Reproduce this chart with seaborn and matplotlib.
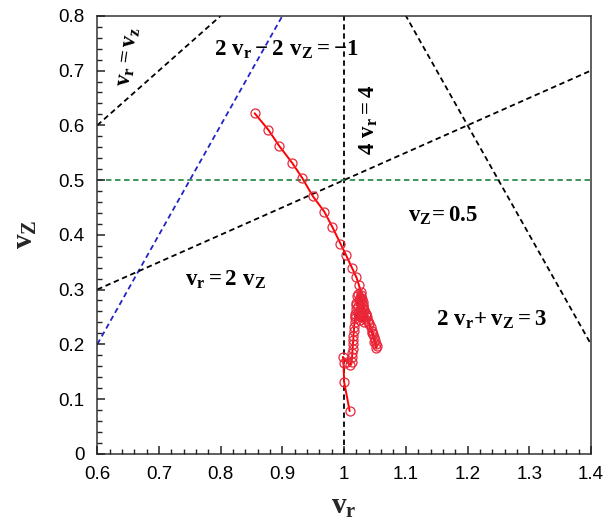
import numpy as np
import pandas as pd
import seaborn as sns
import matplotlib
matplotlib.use("Agg")
import matplotlib.pyplot as plt
from matplotlib.ticker import MultipleLocator

# ---- data -------------------------------------------------------------
# trajectory of (v_r, v_z)
traj_vr = [0.855, 0.877, 0.895, 0.916, 0.932, 0.949, 0.968, 0.981, 0.994,
           1.003, 1.013, 1.020, 1.024, 1.027,
           1.028, 1.030, 1.031, 1.033, 1.035, 1.037, 1.039, 1.041, 1.043,
           1.045, 1.047, 1.049, 1.050, 1.052, 1.053, 1.052,
           1.049, 1.045, 1.040, 1.035, 1.030, 1.026,
           1.022, 1.028, 1.024, 1.020, 1.027, 1.032, 1.022, 1.017, 1.028,
           1.034, 1.025, 1.019, 1.030, 1.024, 1.021, 1.029, 1.023, 1.026,
           1.031, 1.020, 1.025, 1.036, 1.033, 1.018,
           1.018, 1.017, 1.016, 1.016, 1.015, 1.015, 1.014, 1.014, 1.013,
           1.013, 1.012, 1.010, 1.004, 0.998, 0.999, 1.000, 1.009]
traj_vz = [0.622, 0.592, 0.562, 0.531, 0.504, 0.471, 0.442, 0.414, 0.384,
           0.363, 0.339, 0.322, 0.308, 0.296,
           0.285, 0.278, 0.270, 0.262, 0.255, 0.249, 0.243, 0.237, 0.231,
           0.225, 0.219, 0.213, 0.207, 0.201, 0.196, 0.193,
           0.205, 0.220, 0.238, 0.256, 0.272, 0.284,
           0.292, 0.290, 0.280, 0.272, 0.268, 0.262, 0.258, 0.252, 0.250,
           0.246, 0.285, 0.276, 0.266, 0.254, 0.288, 0.282, 0.270, 0.262,
           0.256, 0.264, 0.244, 0.252, 0.240, 0.256,
           0.248, 0.240, 0.232, 0.224, 0.216, 0.208, 0.200, 0.192, 0.184,
           0.176, 0.168, 0.163, 0.168, 0.177, 0.165, 0.131, 0.078]

# constraint lines a*v_r + b*v_z = c
con_a = [1, 2, 4, 0, 1, 2]
con_b = [-1, -1, 0, 1, -2, 1]
con_c = [0, 1, 4, 0.5, 0, 3]
con_color = ["black", "#2323c8", "black", "#2e8b4e", "black", "black"]

con_labels = [r"$\mathrm{v_r = v_z}$",
              r"$\mathrm{2\ v_r - 2\ v_Z = -1}$",
              r"$\mathrm{4\ v_r = 4}$",
              r"$\mathrm{v_Z\!= 0.5}$",
              r"$\mathrm{v_r = 2\ v_Z}$",
              r"$\mathrm{2\ v_r\!+ v_Z = 3}$"]
label_x = [0.649, 0.906, 1.040, 1.160, 0.808, 1.238]
label_y = [0.726, 0.738, 0.610, 0.436, 0.318, 0.245]
label_rot = [82, 0, 90, 0, 0, 0]

x_ticks = [0.6, 0.7, 0.8, 0.9, 1.0, 1.1, 1.2, 1.3, 1.4]
x_ticklabels = ["0.6", "0.7", "0.8", "0.9", "1", "1.1", "1.2", "1.3", "1.4"]
y_ticks = [0, 0.1, 0.2, 0.3, 0.4, 0.5, 0.6, 0.7, 0.8]
y_ticklabels = ["0", "0.1", "0.2", "0.3", "0.4", "0.5", "0.6", "0.7", "0.8"]

# ---- style ------------------------------------------------------------
sns.set_theme(style="ticks")
plt.rcParams["font.family"] = ["Liberation Sans", "DejaVu Sans"]
plt.rcParams["mathtext.fontset"] = "custom"
plt.rcParams["mathtext.rm"] = "Liberation Serif:bold"
plt.rcParams["mathtext.it"] = "Liberation Serif:bold"
plt.rcParams["mathtext.bf"] = "Liberation Serif:bold"

fig, ax = plt.subplots(figsize=(6.08, 5.27), dpi=100)
fig.subplots_adjust(left=0.160, right=0.972, bottom=0.139, top=0.970)

xmin, xmax, ymin, ymax = 0.6, 1.4, 0.0, 0.8
dash = (0, (3, 2))

for a, b, c, col in zip(con_a, con_b, con_c, con_color):
    if b == 0:
        xv = c / a
        df = pd.DataFrame({"vr": [xv, xv], "vz": [ymin, ymax]})
    else:
        xs = np.array([xmin, xmax])
        df = pd.DataFrame({"vr": xs, "vz": (c - a * xs) / b})
    sns.lineplot(data=df, x="vr", y="vz", ax=ax, color=col, lw=1.3,
                 linestyle=dash, sort=False, estimator=None, legend=False)

traj = pd.DataFrame({"vr": traj_vr, "vz": traj_vz})
sns.lineplot(data=traj, x="vr", y="vz", ax=ax, sort=False, estimator=None,
             color="red", lw=1.4, marker="o", markersize=6.5,
             markerfacecolor="none", markeredgecolor="#e8283a",
             markeredgewidth=0.9, legend=False)

for t, lx, ly, r in zip(con_labels, label_x, label_y, label_rot):
    ax.text(lx, ly, t, fontsize=16.5, rotation=r, ha="center", va="center",
            color="black")

ax.set_xlim(xmin, xmax)
ax.set_ylim(ymin, ymax)
ax.set_xticks(x_ticks, x_ticklabels)
ax.set_yticks(y_ticks, y_ticklabels)
ax.xaxis.set_minor_locator(MultipleLocator(0.02))
ax.yaxis.set_minor_locator(MultipleLocator(0.02))
ax.tick_params(which="both", length=0)
ax.tick_params(which="major", labelsize=13.5, pad=9, labelcolor="black")

# inward tick marks drawn as short segments along the bottom and left spines
ax_w_px = fig.get_figwidth() * fig.dpi * (0.972 - 0.160)
ax_h_px = fig.get_figheight() * fig.dpi * (0.970 - 0.139)
maj_len, min_len = 8.0, 5.0
xmaj = ax.xaxis.get_majorticklocs()
xmin_locs = [v for v in ax.xaxis.get_minorticklocs()
             if xmin <= v <= xmax and not np.any(np.isclose(v, xmaj))]
ymaj = ax.yaxis.get_majorticklocs()
ymin_locs = [v for v in ax.yaxis.get_minorticklocs()
             if ymin <= v <= ymax and not np.any(np.isclose(v, ymaj))]
xt = ax.get_xaxis_transform()
yt = ax.get_yaxis_transform()
ax.vlines(xmaj, 0, maj_len / ax_h_px, transform=xt, color="#222222",
          lw=1.1, clip_on=False, zorder=3)
ax.vlines(xmin_locs, 0, min_len / ax_h_px, transform=xt, color="#222222",
          lw=1.0, clip_on=False, zorder=3)
ax.hlines(ymaj, 0, maj_len / ax_w_px, transform=yt, color="#222222",
          lw=1.1, clip_on=False, zorder=3)
ax.hlines(ymin_locs, 0, min_len / ax_w_px, transform=yt, color="#222222",
          lw=1.0, clip_on=False, zorder=3)

for sp in ax.spines.values():
    sp.set_visible(True)
    sp.set_color("#333333")
    sp.set_linewidth(1.1)

ax.set_xlabel(r"$\mathrm{v_r}$", fontsize=21, labelpad=6)
ax.set_ylabel(r"$\mathrm{v_Z}$", fontsize=21, labelpad=14)

fig.savefig("out.png", dpi=100, facecolor="white")
